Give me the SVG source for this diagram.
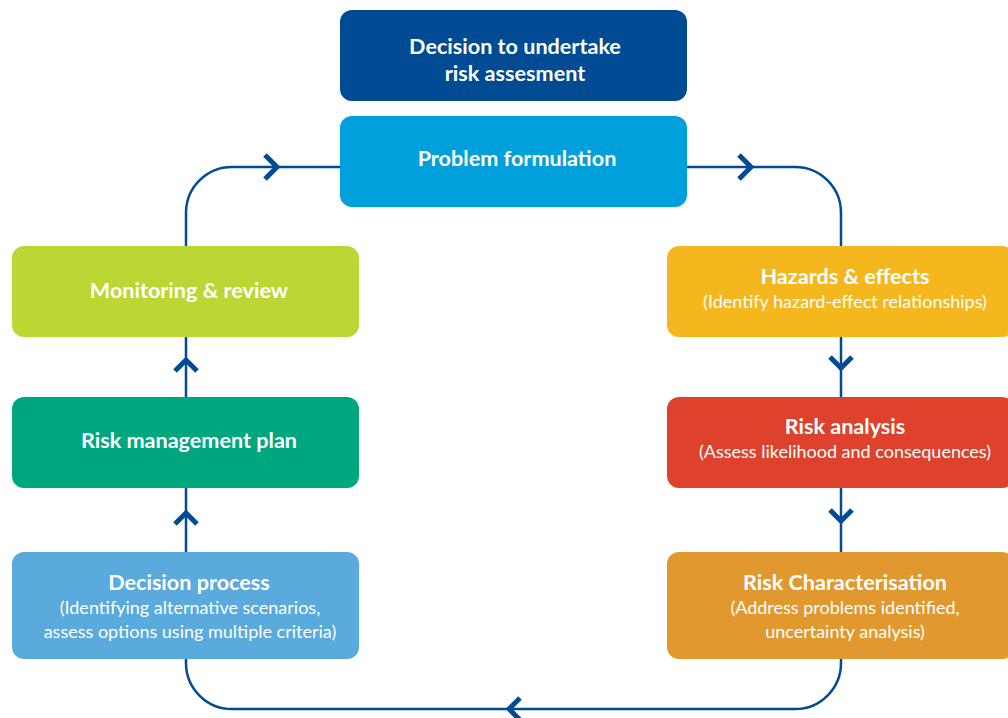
<svg xmlns="http://www.w3.org/2000/svg" width="1008" height="718" viewBox="0 0 1008 718">
<style>
.t{font-family:Lato,"Open Sans",sans-serif;font-weight:bold;font-size:21.6px;fill:#fff;text-anchor:middle}
.s{font-family:Lato,"Open Sans",sans-serif;font-size:18px;fill:#fff;text-anchor:middle}
.ln{fill:none;stroke:#004a96;stroke-width:2.5}
.ch{fill:none;stroke:#004a96;stroke-width:5;stroke-linejoin:miter}
</style>
<rect width="1008" height="718" fill="#fff"/>
<g id="connectors">
<path class="ln" d="M186 246 V213 A46 46 0 0 1 232 167 H340"/>
<path class="ln" d="M687 167 H795 A46 46 0 0 1 841 213 V246"/>
<path class="ln" d="M186 337 V397 M186 488 V552"/>
<path class="ln" d="M841 337 V397 M841 488 V552"/>
<path class="ln" d="M186 659 V663 A46 46 0 0 0 232 709 H795 A46 46 0 0 0 841 663 V659"/>
<path class="ch" d="M265 155 L277 167 L265 179"/>
<path class="ch" d="M739 155 L751 167 L739 179"/>
<path class="ch" d="M175 371 L186 360 L197 371"/>
<path class="ch" d="M175 524 L186 513 L197 524"/>
<path class="ch" d="M830 357 L841 368 L852 357"/>
<path class="ch" d="M830 510 L841 521 L852 510"/>
<path class="ch" d="M520 698 L509 709 L520 720"/>
</g>
<g id="decision-undertake"><rect x="340" y="10" width="347" height="91" rx="12" fill="#004b93"/>
<text class="t" x="515" y="54">Decision to undertake</text><text class="t" x="515" y="81">risk assesment</text></g>
<g id="problem-formulation"><rect x="340" y="116" width="347" height="91" rx="12" fill="#00a0dc"/>
<text class="t" x="517" y="166">Problem formulation</text></g>
<g id="monitoring"><rect x="12" y="246" width="347" height="91" rx="12" fill="#bcd634"/>
<text class="t" x="189" y="298">Monitoring &amp; review</text></g>
<g id="risk-management"><rect x="12" y="397" width="347" height="91" rx="12" fill="#00a77e"/>
<text class="t" x="189" y="448">Risk management plan</text></g>
<g id="decision-process"><rect x="12" y="552" width="347" height="107" rx="12" fill="#5aaade"/>
<text class="t" x="189" y="590">Decision process</text>
<text class="s" x="190" y="614">(Identifying alternative scenarios,</text>
<text class="s" x="190" y="638">assess options using multiple criteria)</text></g>
<g id="hazards"><rect x="667" y="246" width="347" height="91" rx="12" fill="#f4b71e"/>
<text class="t" x="845" y="284">Hazards &amp; effects</text>
<text class="s" x="845" y="308">(Identify hazard-effect relationships)</text></g>
<g id="risk-analysis"><rect x="667" y="397" width="347" height="91" rx="12" fill="#de412c"/>
<text class="t" x="845" y="434">Risk analysis</text>
<text class="s" x="845" y="458">(Assess likelihood and consequences)</text></g>
<g id="risk-characterisation"><rect x="667" y="552" width="347" height="107" rx="12" fill="#e1992f"/>
<text class="t" x="845" y="590">Risk Characterisation</text>
<text class="s" x="845" y="614">(Address problems identified,</text>
<text class="s" x="845" y="638">uncertainty analysis)</text></g>
</svg>
